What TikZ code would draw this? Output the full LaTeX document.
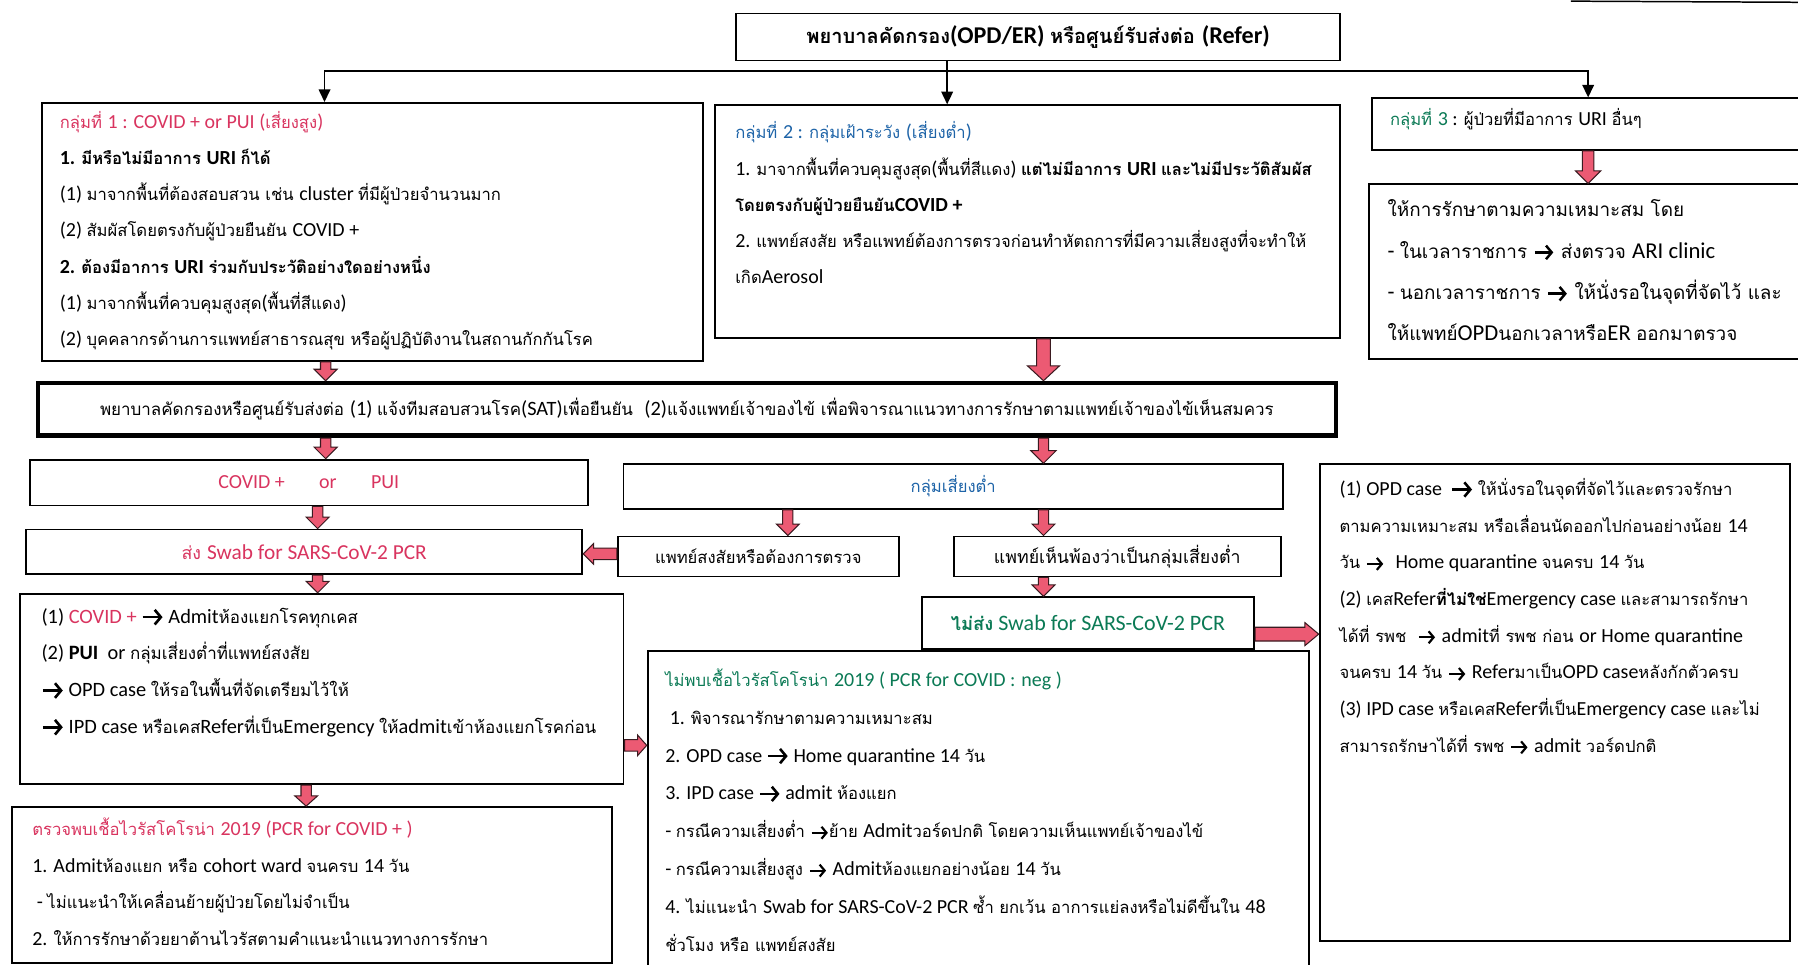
\documentclass[tikz,border=0pt]{standalone}
\usepackage{fontspec}
\setmainfont{Carlito}[Scale=1.2]
\newfontfamily\latf{Carlito}[Scale=1.2]
\newfontfamily\thaif{Loma}[Script=Thai]
\usetikzlibrary{arrows.meta,calc}
\newXeTeXintercharclass\thaicls
\makeatletter
\@tempcnta="0E00
\loop\ifnum\@tempcnta<"0E80 \XeTeXcharclass\@tempcnta=\thaicls \advance\@tempcnta by 1 \repeat
\makeatother
\XeTeXinterchartoks 0 \thaicls = {\thaif}
\XeTeXinterchartoks 4095 \thaicls = {\thaif}
\XeTeXinterchartoks \thaicls 0 = {\latf}
\XeTeXinterchartoks 4095 0 = {\latf}
\XeTeXinterchartokenstate=1
\definecolor{pinkred}{HTML}{D9345F}
\definecolor{tblue}{HTML}{1E64A8}
\definecolor{tgreen}{HTML}{0B7A55}
\definecolor{arrred}{HTML}{EC5A73}
\definecolor{arrline}{HTML}{3A1A20}
\newcommand\myarr{\tikz[baseline=0pt,x=1em,y=1em]\draw[line width=0.13em,-{Straight Barb[length=0.3em,width=0.72em]}] (0.04,0.3) -- (1.02,0.3);}
\newcommand\fs{\fontsize{14.5}{31.5}\selectfont}
\newcommand\bdown[5]{\draw[barrow] let \p1=(#1), \p2=(#2) in (\x1-#3,\y1) -- (\x1-#3,\y2+#5) -- (\x1-#4,\y2+#5) -- (\x1,\y2) -- (\x1+#4,\y2+#5) -- (\x1+#3,\y2+#5) -- (\x1+#3,\y1) -- cycle;}
\newcommand\bright[5]{\draw[barrow] let \p1=(#1), \p2=(#2) in (\x1,\y1-#3) -- (\x2-#5,\y1-#3) -- (\x2-#5,\y1-#4) -- (\x2,\y1) -- (\x2-#5,\y1+#4) -- (\x2-#5,\y1+#3) -- (\x1,\y1+#3) -- cycle;}
\newcommand\bleft[5]{\draw[barrow] let \p1=(#1), \p2=(#2) in (\x1,\y1-#3) -- (\x2+#5,\y1-#3) -- (\x2+#5,\y1-#4) -- (\x2,\y1) -- (\x2+#5,\y1+#4) -- (\x2+#5,\y1+#3) -- (\x1,\y1+#3) -- cycle;}
\tikzset{
 box/.style={draw, line width=1.6pt, inner sep=0pt, anchor=north west, font=\fs},
 barrow/.style={draw=arrline, fill=arrred, line width=0.9pt, line join=miter},
 conn/.style={line width=1.7pt, draw=black},
 tipc/.style={-{Triangle[length=11pt,width=10pt]}},
 txt/.style={anchor=north west, align=left, inner sep=0pt, font=\fs},
}
\begin{document}
\begin{tikzpicture}[x=1pt,y=-1pt]
\useasboundingbox (0,0) rectangle (1568,841);
\fill[white] (0,0) rectangle (1568,841);
% helper coordinates
\coordinate (j) at (826,62);
\coordinate (xa) at (284,0);
\coordinate (xb) at (910,0);
\coordinate (xc) at (277,0);
\coordinate (xd) at (687,0);
\coordinate (xe) at (267,0);
\coordinate (xf) at (1385,0);
\coordinate (xj) at (283,0);
\coordinate (yg) at (0,483);
\coordinate (yh) at (0,553);
\coordinate (yi) at (0,650);
% boxes
\node[box, minimum width=527pt, minimum height=41pt, font=\fontsize{17.5}{20}\selectfont\bfseries] (top) at (641,11) {พยาบาลคัดกรอง(OPD/ER) หรือศูนย์รับส่งต่อ (Refer)};
\node[box, minimum width=576pt, minimum height=225pt] (b1) at (36,89) {};
\node[box, minimum width=545pt, minimum height=203pt] (b2) at (623,91) {};
\node[box, minimum width=390pt, minimum height=45pt] (b3) at (1196,85) {};
\node[box, minimum width=390pt, minimum height=152pt] (b3b) at (1193,160) {};
\node[box, line width=4pt, minimum width=1132pt, minimum height=46pt, font=\fontsize{14.8}{20}\selectfont] (sat) at (31,332) {พยาบาลคัดกรองหรือศูนย์รับส่งต่อ (1) แจ้งทีมสอบสวนโรค(SAT)เพื่อยืนยัน~~(2)แจ้งแพทย์เจ้าของไข้ เพื่อพิจารณาแนวทางการรักษาตามแพทย์เจ้าของไข้เห็นสมควร};
\node[box, minimum width=487pt, minimum height=40pt, text=pinkred] (covid) at (25,400) {COVID +\hspace{30pt}or\hspace{30pt}PUI};
\node[box, minimum width=485pt, minimum height=39pt, text=pinkred, font=\fontsize{15.5}{20}\selectfont] (swab) at (22,461) {ส่ง Swab for SARS-CoV-2 PCR};
\node[box, minimum width=575pt, minimum height=39pt, text=tblue] (low) at (543,404) {กลุ่มเสี่ยงต่ำ};
\node[box, minimum width=245pt, minimum height=35pt] (susp) at (538,467) {แพทย์สงสัยหรือต้องการตรวจ};
\node[box, minimum width=285pt, minimum height=35pt, font=\fontsize{15.5}{20}\selectfont] (agree) at (831,467) {แพทย์เห็นพ้องว่าเป็นกลุ่มเสี่ยงต่ำ};
\node[box, minimum width=290pt, minimum height=45pt, text=tgreen, font=\fontsize{16}{20}\selectfont] (noswab) at (803,520) {\textbf{ไม่ส่ง} Swab for SARS-CoV-2 PCR};
\node[box, minimum width=410pt, minimum height=416pt] (right) at (1150,404) {};
\node[box, minimum width=526pt, minimum height=166pt] (admit) at (17,517) {};
\node[box, minimum width=523pt, minimum height=136pt] (found) at (10,703) {};
\node[box, minimum width=577pt, minimum height=290pt] (neg) at (564,567) {};
% texts
\node[txt] (t1) at (52,97) {{\color{pinkred}กลุ่มที่ 1 : COVID + or PUI (เสี่ยงสูง)}\\
\textbf{1. มีหรือไม่มีอาการ URI ก็ได้}\\
(1) มาจากพื้นที่ต้องสอบสวน เช่น cluster ที่มีผู้ป่วยจำนวนมาก\\
(2) สัมผัสโดยตรงกับผู้ป่วยยืนยัน COVID +\\
\textbf{2. ต้องมีอาการ URI ร่วมกับประวัติอย่างใดอย่างหนึ่ง}\\
(1) มาจากพื้นที่ควบคุมสูงสุด(พื้นที่สีแดง)\\
(2) บุคคลากรด้านการแพทย์สาธารณสุข หรือผู้ปฏิบัติงานในสถานกักกันโรค};
\node[txt] (t2) at (641,106) {{\color{tblue}กลุ่มที่ 2 : กลุ่มเฝ้าระวัง (เสี่ยงต่ำ)}\\
1. มาจากพื้นที่ควบคุมสูงสุด(พื้นที่สีแดง) \textbf{แต่ไม่มีอาการ URI และไม่มีประวัติสัมผัส}\\
\textbf{โดยตรงกับผู้ป่วยยืนยันCOVID +}\\
2. แพทย์สงสัย หรือแพทย์ต้องการตรวจก่อนทำหัตถการที่มีความเสี่ยงสูงที่จะทำให้\\
เกิดAerosol};
\node[txt, anchor=west] (t3) at (1212,104) {{\color{tgreen}กลุ่มที่ 3} : ผู้ป่วยที่มีอาการ URI อื่นๆ};
\node[txt, font=\fontsize{16.5}{36}\selectfont] (t3b) at (1210,174) {ให้การรักษาตามความเหมาะสม โดย\\
- ในเวลาราชการ \myarr{} ส่งตรวจ ARI clinic\\
- นอกเวลาราชการ \myarr{} ให้นั่งรอในจุดที่จัดไว้ และ\\
ให้แพทย์OPDนอกเวลาหรือER ออกมาตรวจ};
\node[txt, font=\fontsize{14.5}{32}\selectfont] (tr) at (1168,417) {(1) OPD case~~\myarr{} ให้นั่งรอในจุดที่จัดไว้และตรวจรักษา\\
ตามความเหมาะสม หรือเลื่อนนัดออกไปก่อนอย่างน้อย 14\\
วัน \myarr{}~~Home quarantine จนครบ 14 วัน\\
(2) เคสRefer\textbf{ที่ไม่ใช่}Emergency case และสามารถรักษา\\
ได้ที่ รพช~~\myarr{} admitที่ รพช ก่อน or Home quarantine\\
จนครบ 14 วัน \myarr{} Referมาเป็นOPD caseหลังกักตัวครบ\\
(3) IPD case หรือเคสReferที่เป็นEmergency case และไม่\\
สามารถรักษาได้ที่ รพช \myarr{} admit วอร์ดปกติ};
\node[txt, font=\fontsize{14.8}{32}\selectfont] (ta) at (36,530) {(1) {\color{pinkred}COVID +} \myarr{} Admitห้องแยกโรคทุกเคส\\
(2) \textbf{PUI}~~or กลุ่มเสี่ยงต่ำที่แพทย์สงสัย\\
\myarr{} OPD case ให้รอในพื้นที่จัดเตรียมไว้ให้\\
\myarr{} IPD case หรือเคสReferที่เป็นEmergency ให้admitเข้าห้องแยกโรคก่อน};
\node[txt, font=\fontsize{14.5}{32}\selectfont] (tf) at (28,713) {{\color{pinkred}ตรวจพบเชื้อไวรัสโคโรน่า 2019 (PCR for COVID + )}\\
1. Admitห้องแยก หรือ cohort ward จนครบ 14 วัน\\
~- ไม่แนะนำให้เคลื่อนย้ายผู้ป่วยโดยไม่จำเป็น\\
2. ให้การรักษาด้วยยาต้านไวรัสตามคำแนะนำแนวทางการรักษา};
\node[txt, font=\fontsize{14.5}{33}\selectfont] (tn) at (580,583) {{\color{tgreen}ไม่พบเชื้อไวรัสโคโรน่า 2019 ( PCR for COVID : neg )}\\
~1. พิจารณารักษาตามความเหมาะสม\\
2. OPD case \myarr{} Home quarantine 14 วัน\\
3. IPD case \myarr{} admit ห้องแยก\\
- กรณีความเสี่ยงต่ำ \myarr{}ย้าย Admitวอร์ดปกติ โดยความเห็นแพทย์เจ้าของไข้\\
- กรณีความเสี่ยงสูง \myarr{} Admitห้องแยกอย่างน้อย 14 วัน\\
4. ไม่แนะนำ Swab for SARS-CoV-2 PCR ซ้ำ ยกเว้น อาการแย่ลงหรือไม่ดีขึ้นใน 48\\
ชั่วโมง หรือ แพทย์สงสัย};
% thin connectors
\draw[conn] (top.south -| j) -- (j);
\draw[conn, tipc] (j) -- (b2.north -| j);
\draw[conn, tipc] (j) -| (b1.north -| xj);
\draw[conn, tipc] (j) -| (b3.north -| xf);
\draw[line width=1.3pt] (1370,1) -- (1570,2);
% block arrows
\bdown{b1.south -| xa}{sat.north -| xa}{4.5pt}{10pt}{10pt}
\bdown{b2.south -| xb}{sat.north -| xb}{6pt}{14pt}{13pt}
\bdown{sat.south -| xa}{covid.north -| xa}{4.5pt}{10pt}{10pt}
\bdown{sat.south -| xb}{low.north -| xb}{4.5pt}{11pt}{11pt}
\bdown{covid.south -| xc}{swab.north -| xc}{4.5pt}{10pt}{10pt}
\bdown{low.south -| xd}{susp.north -| xd}{4.5pt}{10pt}{10pt}
\bdown{low.south -| xb}{agree.north -| xb}{4.5pt}{10pt}{10pt}
\bdown{agree.south -| xb}{noswab.north -| xb}{4.5pt}{10pt}{10pt}
\bdown{swab.south -| xc}{admit.north -| xc}{4.5pt}{10pt}{10pt}
\bdown{admit.south -| xe}{found.north -| xe}{4.5pt}{10pt}{9pt}
\bdown{b3.south -| xf}{b3b.north -| xf}{5pt}{11pt}{11pt}
\bleft{susp.west |- yg}{swab.east |- yg}{5pt}{9pt}{9pt}
\bright{noswab.east |- yh}{right.west |- yh}{6pt}{10pt}{12pt}
\bright{admit.east |- yi}{neg.west |- yi}{5pt}{9pt}{8pt}
\end{tikzpicture}
\end{document}
